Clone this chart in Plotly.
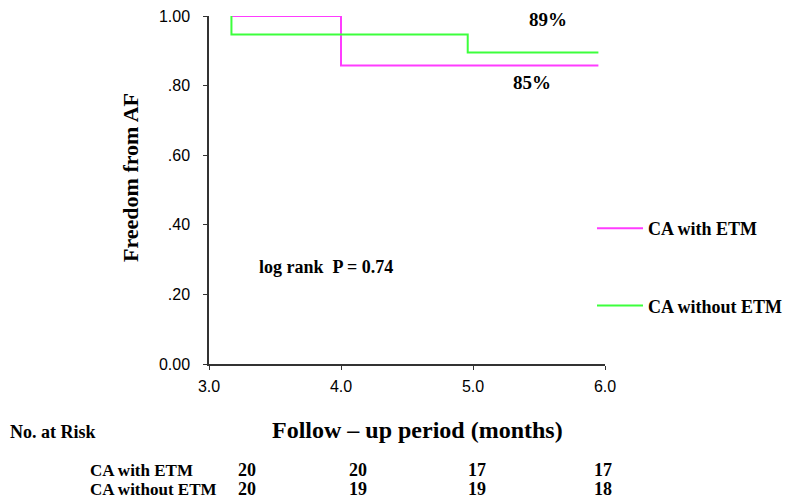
import plotly.graph_objects as go

# --- data ---
with_etm_t = [3.17, 4.0, 5.95]
with_etm_s = [1.0, 0.858, 0.858]
without_etm_t = [3.17, 3.17, 4.96, 5.95]
without_etm_s = [1.0, 0.947, 0.895, 0.895]

y_tick_vals = [0.0, 0.2, 0.4, 0.6, 0.8, 1.0]
y_tick_text = ["0.00", ".20", ".40", ".60", ".80", "1.00"]
x_tick_vals = [3.0, 4.0, 5.0, 6.0]
x_tick_text = ["3.0", "4.0", "5.0", "6.0"]

risk_groups = ["CA with ETM", "CA without ETM"]
risk_with = [20, 20, 17, 17]
risk_without = [20, 19, 19, 18]

OFF = 8  # page body margin
W, H = 791 - OFF, 499 - OFF
L, T = 209 - OFF, 8
R = W - (605 - OFF)
B = H - (364 - OFF)
PW, PH = W - L - R, H - T - B


def px(sx):
    return (sx - OFF - L) / PW


def py(sy):
    return (H - B - (sy - OFF)) / PH


SERIF = "Liberation Serif, Times New Roman, serif"
SANS = "Liberation Sans, Arial, sans-serif"

fig = go.Figure()
fig.add_trace(go.Scatter(x=with_etm_t, y=with_etm_s, mode="lines", line_shape="hv",
                         line=dict(color="#ff3cff", width=2), name="CA with ETM",
                         legendgroup="a", cliponaxis=False))
fig.add_trace(go.Scatter(x=without_etm_t, y=without_etm_s, mode="lines", line_shape="hv",
                         line=dict(color="#3cff3c", width=2), name="CA without ETM",
                         legendgroup="b", cliponaxis=False))

ann = []
tf = dict(family=SERIF, size=19, color="black")
ann.append(dict(x=px(548), y=py(20), text="<b>89%</b>", font=tf))
ann.append(dict(x=px(532), y=py(82), text="<b>85%</b>", font=tf))
ann.append(dict(x=px(257), y=py(267), text="<b>log rank  P = 0.74</b>", xanchor="left",
                font=dict(family=SERIF, size=18, color="black")))
ann.append(dict(x=px(130), y=py(178), text="<b>Freedom from AF</b>", textangle=-90,
                font=dict(family=SERIF, size=22, color="black")))
ann.append(dict(x=px(417), y=py(430), text="<b>Follow – up period (months)</b>",
                font=dict(family=SERIF, size=24, color="black")))
ann.append(dict(x=px(OFF), y=py(432), text="<b>No. at Risk</b>", xanchor="left",
                font=dict(family=SERIF, size=18, color="black")))
rf = dict(family=SERIF, size=17, color="black")
row_y = [470, 489]
for gname, ry in zip(risk_groups, row_y):
    ann.append(dict(x=px(88), y=py(ry), text="<b>" + gname + "</b>", xanchor="left", font=rf))
num_x = [247, 358, 477, 603]
nf = dict(family=SERIF, size=18, color="black")
for vals, ry in zip([risk_with, risk_without], row_y):
    for v, nx in zip(vals, num_x):
        ann.append(dict(x=px(nx), y=py(ry), text="<b>%d</b>" % v, font=nf))
for a in ann:
    a.setdefault("xanchor", "center")
    a.update(xref="paper", yref="paper", showarrow=False, yanchor="middle")

fig.update_layout(
    width=W, height=H,
    margin=dict(l=L, r=R, t=T, b=B, autoexpand=False),
    plot_bgcolor="white", paper_bgcolor="white",
    annotations=ann,
    showlegend=True,
    legend=dict(x=px(592), y=py(210), xanchor="left", yanchor="top",
                font=dict(family=SERIF, size=18, color="black"),
                traceorder="grouped", tracegroupgap=51, itemwidth=46,
                bgcolor="rgba(0,0,0,0)"),
    xaxis=dict(range=[3, 6], tickvals=x_tick_vals, ticktext=x_tick_text,
               showgrid=False, zeroline=False, showline=True, linecolor="#333",
               linewidth=1.5, ticks="outside", ticklen=4, tickcolor="#333",
               ticklabelstandoff=3, automargin=False,
               tickfont=dict(family=SANS, size=16, color="black")),
    yaxis=dict(range=[0, 1], tickvals=y_tick_vals, ticktext=y_tick_text,
               showgrid=False, zeroline=False, showline=True, linecolor="#333",
               linewidth=1.5, ticks="outside", ticklen=4, tickcolor="#333",
               ticklabelstandoff=10, ticklabeloverflow="allow", automargin=False,
               tickfont=dict(family=SANS, size=16, color="black")),
)
fig.for_each_trace(lambda t: t.update(name="<b>" + t.name + "</b>"))
fig.write_html("out.html")
